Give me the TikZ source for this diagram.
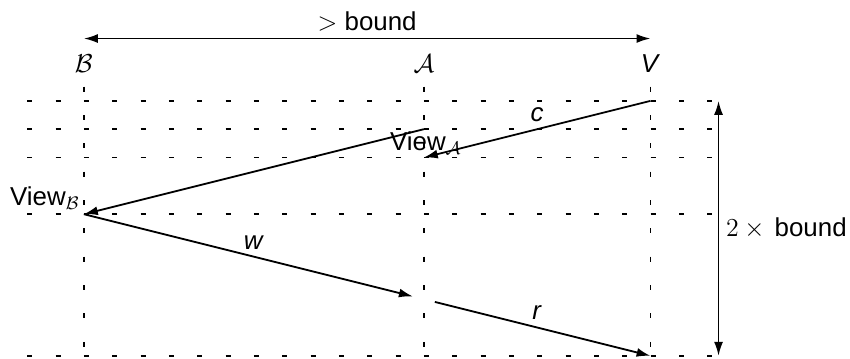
\RequirePackage{fix-cm}
\documentclass[tikz,border=0pt]{standalone}
\usepackage{fontspec}
\setmainfont{Liberation Sans}
\usepackage{tikz}
\usetikzlibrary{arrows.meta, positioning}

\tikzset{
  timeline/.style={line width=0.8pt, dash pattern=on 2.5pt off 11.73pt},
  msg/.style={line width=0.9pt, -{Latex[length=7pt,width=4.5pt]}},
  span/.style={line width=0.9pt, {Latex[length=7pt,width=4.5pt]}-{Latex[length=7pt,width=4.5pt]}}
}

\begin{document}
\begin{tikzpicture}[font=\fontsize{13}{15}\selectfont]
  \useasboundingbox (-1.48,-4.55) rectangle (13.52,1.78);
  % time steps
  \foreach \y in {0,-0.5,-1,-2,-4.5}{
    \draw[timeline] (-1,\y) -- (11.2,\y);
  }
  % processes
  \foreach \x/\n/\lab in {0/B/{$\mathcal{B}$}, 6/A/{$\mathcal{A}$}, 10/V/{\textit{V}}}{
    \draw[timeline] (\x,0.25) -- (\x,-4.5);
    \node (\n) at (\x,0.66) {\lab};
  }
  \coordinate (bndL) at (0,1.1);
  \coordinate (bndR) at (10,1.1);
  \coordinate (bndT) at (11.2,0);
  \coordinate (bndB) at (11.2,-4.5);
  \coordinate (V0) at (10,0);
  \coordinate (A0) at (6,-0.5);
  \coordinate (A1) at (6,-1);
  \coordinate (B2) at (0,-2);
  \coordinate (A3) at (6,-3.5);
  \coordinate (V4) at (10,-4.5);

  \draw[span] (bndL) -- node[above] (dist) {$>$ bound} (bndR);
  \draw[span] (bndT) -- node[right] (delay) {$2\times{}$\,bound} (bndB);

  \node[below, inner sep=1pt, xshift=1pt] (viewA) at (A0) {View$_{\mathcal{A}}$};
  \draw[msg] (V0) -- node[above] (c) {\textit{c}} (A1);
  \draw[msg] (A0) -- (B2);
  \node[above left, inner sep=2pt] (viewB) at (B2) {View$_{\mathcal{B}}$};
  \draw[msg, shorten >=2mm] (B2) -- node[above] (w) {\textit{w}} (A3);
  \draw[msg, shorten <=2mm] (A3) -- node[above] (r) {\textit{r}} (V4);
\end{tikzpicture}
\end{document}
